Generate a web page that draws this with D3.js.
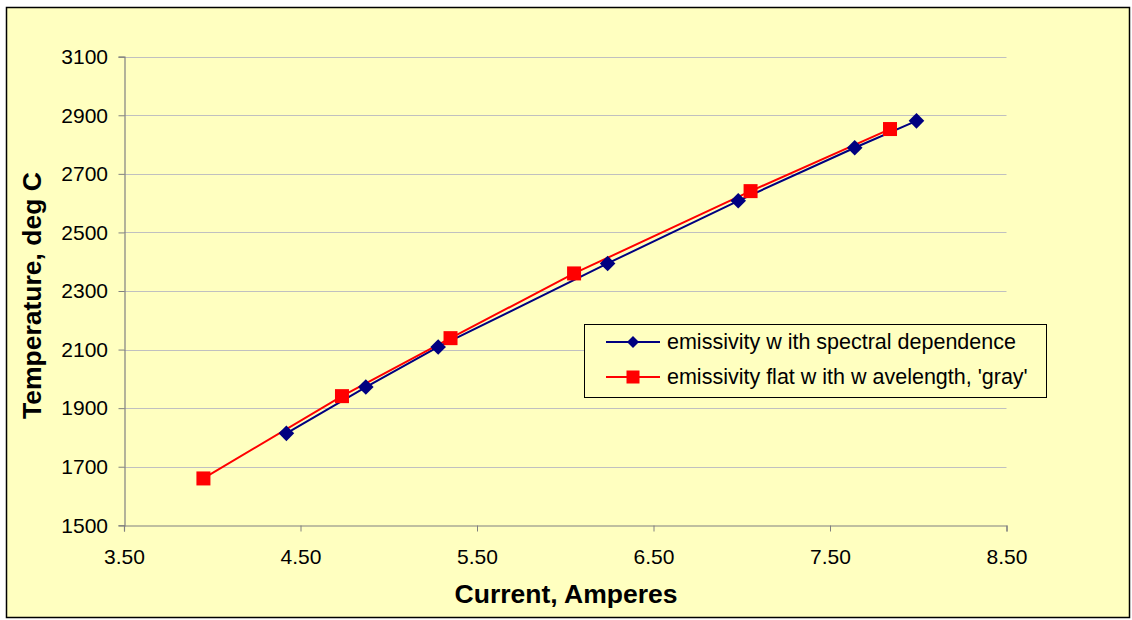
<!DOCTYPE html>
<html><head><meta charset="utf-8">
<script src="https://cdn.jsdelivr.net/npm/d3@7"></script>
<style>body{margin:0;background:#fff}svg{display:block;font-family:"Liberation Sans",Arial,sans-serif}</style>
</head><body><svg id="c" width="1132" height="620"></svg>
<script>
const xTicks = [3.5, 4.5, 5.5, 6.5, 7.5, 8.5];
const yTicks = [1500, 1700, 1900, 2100, 2300, 2500, 2700, 2900, 3100];
const spectralX = [4.42, 4.87, 5.28, 6.24, 6.98, 7.64, 7.99];
const spectralY = [1814, 1972, 2109, 2394, 2608, 2789, 2881];
const grayX = [3.95, 4.735, 5.35, 6.05, 7.05, 7.84];
const grayY = [1660, 1941, 2139, 2360, 2641, 2853];
const seriesNames = ["emissivity w ith spectral dependence", "emissivity flat w ith w avelength, 'gray'"];
const xTitle = "Current, Amperes";
const yTitle = "Temperature, deg C";

const svg = d3.select("#c");
svg.append("rect").attr("x",6.5).attr("y",7.5).attr("width",1123).attr("height",610)
  .attr("fill","#FFFFC0").attr("stroke","#000").attr("stroke-width",1.5);

const x = d3.scaleLinear().domain([3.5, 8.5]).range([124, 1006.5]);
const y = d3.scaleLinear().domain([1500, 3100]).range([525.3, 56.7]);

// gridlines
svg.append("g").selectAll("line").data(yTicks.filter(d=>d>1500)).join("line")
  .attr("x1",x(3.5)).attr("x2",x(8.5)).attr("y1",d=>Math.round(y(d))+0.5).attr("y2",d=>Math.round(y(d))+0.5)
  .attr("stroke","#C0C0C0").attr("stroke-width",1);

// axes
const xAxis = d3.axisBottom(x).tickValues(xTicks).tickFormat(d3.format(".2f")).tickSize(6);
const gx = svg.append("g").attr("transform",`translate(0,${Math.round(y(1500))+0.5})`).call(xAxis);
const yAxis = d3.axisLeft(y).tickValues(yTicks).tickFormat(d3.format("d")).tickSize(6).tickPadding(10);
const gy = svg.append("g").attr("transform",`translate(${Math.round(x(3.5))+0.5},0)`).call(yAxis);
[gx, gy].forEach(g=>{
  g.attr("font-size",null).attr("font-family",null);
  g.select(".domain").attr("stroke","#808080").attr("stroke-width",1.2);
  g.selectAll(".tick line").attr("stroke","#808080");
  g.selectAll(".tick text").attr("fill","#000").style("font-size","21px");
});
gx.selectAll(".tick text").attr("y",38).attr("dy",null);
gy.selectAll(".tick text").attr("x",-16.5);

// titles
svg.append("text").attr("x",566).attr("y",603).attr("text-anchor","middle")
  .style("font-size","26.5px").style("font-weight","bold").text(xTitle);
svg.append("text").attr("transform","translate(41,295.5) rotate(-90)").attr("text-anchor","middle")
  .style("font-size","26.5px").style("font-weight","bold").text(yTitle);

const s1 = spectralX.map((v,i)=>[v, spectralY[i]]);
const s2 = grayX.map((v,i)=>[v, grayY[i]]);
const line = d3.line().x(d=>x(d[0])).y(d=>y(d[1]));
const blue = "#000080", red = "#FF0000";
svg.append("path").datum(s1).attr("d",line).attr("fill","none").attr("stroke",blue).attr("stroke-width",2);
svg.append("path").datum(s2).attr("d",line).attr("fill","none").attr("stroke",red).attr("stroke-width",2);

function drawDiamond(g, cx, cy, sz){
  g.append("path").attr("d", `M${cx},${cy-sz}L${cx+sz},${cy}L${cx},${cy+sz}L${cx-sz},${cy}Z`).attr("fill",blue);
}
const mk = svg.append("g");
s1.forEach(d=>drawDiamond(mk, x(d[0]), y(d[1]), 7.8));
svg.append("g").selectAll("rect").data(s2).join("rect")
  .attr("x",d=>x(d[0])-7).attr("y",d=>y(d[1])-7).attr("width",14).attr("height",14).attr("fill",red);

// legend
const lg = svg.append("g");
lg.append("rect").attr("x",584.5).attr("y",324.5).attr("width",462).attr("height",73)
  .attr("fill","#FFFFC0").attr("stroke","#000").attr("stroke-width",1);
const ly = [342, 377];
[blue, red].forEach((c,i)=>{
  lg.append("line").attr("x1",606).attr("x2",660).attr("y1",ly[i]).attr("y2",ly[i]).attr("stroke",c).attr("stroke-width",2);
  if(i===0) drawDiamond(lg, 633, ly[i], 6);
  else lg.append("rect").attr("x",626.5).attr("y",ly[i]-6.5).attr("width",13).attr("height",13).attr("fill",red);
  lg.append("text").attr("x",667).attr("y",ly[i]+6.5).style("font-size","21.5px").text(seriesNames[i]);
});
</script></body></html>
